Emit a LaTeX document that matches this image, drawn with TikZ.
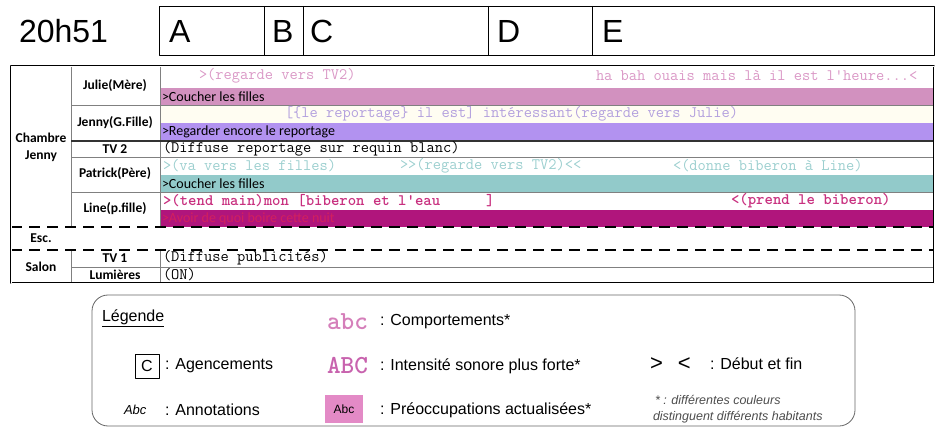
\documentclass[tikz,border=0pt]{standalone}
\usepackage{fontspec}
\setmainfont{Liberation Sans}
\newfontfamily\calib{Carlito}
\definecolor{juliebar}{HTML}{D291BF}
\definecolor{julietxt}{HTML}{DA98C6}
\definecolor{jennybar}{HTML}{B292F0}
\definecolor{jennytxt}{HTML}{B3A0DE}
\definecolor{jennyrow}{HTML}{FFFDF2}
\definecolor{patbar}{HTML}{92CACA}
\definecolor{pattxt}{HTML}{9CCFCF}
\definecolor{linebar}{HTML}{B0157C}
\definecolor{linetxt}{HTML}{C8307F}
\definecolor{lineinbar}{HTML}{D2205E}
\definecolor{legpink}{HTML}{D57FBA}
\definecolor{legpinkb}{HTML}{C863AE}
\definecolor{legbox}{HTML}{E38AC6}
\begin{document}
\begin{tikzpicture}[x=1pt, y=-1pt, line join=round]
			\tikzset{every node/.style={inner sep=0pt, outer sep=0pt},
				com/.style={anchor=west, font=\ttfamily\fontsize{16}{16}\selectfont},
				comb/.style={com, font=\ttfamily\bfseries\fontsize{16}{16}\selectfont, text=linetxt},
				bartxt/.style={anchor=west, font=\calib\fontsize{14}{14}\selectfont},
				who/.style={font=\calib\bfseries\fontsize{13.5}{17}\selectfont, align=center},
				hdr/.style={anchor=west, font=\fontsize{32}{32}\selectfont},
				leg/.style={anchor=west, font=\fontsize{16}{16}\selectfont},
				note/.style={anchor=west, text=black!70, font=\itshape\fontsize{12.5}{12.5}\selectfont},
				gridline/.style={draw=black!50, line width=0.7pt},
				sepline/.style={line width=1.8pt, dash pattern=on 11pt off 7pt}}
			\def\xl{11}\def\xa{71}\def\xb{160}\def\xr{934}
			\useasboundingbox (0,0) rectangle (936,427);
			% en-tete
			\node[hdr] (time) at (19,31) {20h51};
			\draw[line width=0.8pt] (159,6) rectangle (\xr,55);
			\draw[line width=0.8pt] (264,6)--(264,55) (303,6)--(303,55) (488,6)--(488,55) (592,6)--(592,55);
			\node[hdr] (A) at (169,31) {A};
			\node[hdr] (B) at (272,31) {B};
			\node[hdr] (C) at (310,31) {C};
			\node[hdr] (D) at (497,31) {D};
			\node[hdr] (E) at (602,31) {E};
			% fonds
			\fill[jennyrow] (\xb,105) rectangle (\xr,123);
			\fill[juliebar] (\xb,88) rectangle (\xr,105);
			\fill[jennybar] (\xb,123) rectangle (\xr,141);
			\fill[patbar] (\xb,175) rectangle (\xr,192);
			\fill[linebar] (\xb,210) rectangle (\xr,227);
			% grille
			\draw[gridline] (\xa,66)--(\xa,227) (\xa,250)--(\xa,283);
			\draw[gridline] (\xb,66)--(\xb,227) (\xb,250)--(\xb,283);
			\draw[gridline] (\xa,105)--(\xr,105) (\xa,157)--(\xr,157) (\xa,192)--(\xr,192) (\xa,267)--(\xr,267);
			\draw[black!80, line width=1.4pt] (\xa,141)--(\xr,141);
			\draw[sepline] (\xl,227)--(\xr,227);
			\draw[sepline] (\xl,250)--(\xr,250);
			\draw[line width=0.6pt, double, double distance=0.8pt] (\xl,66) rectangle (\xr,283);
			% lieux et habitants
			\node[who] (chambre) at (41,147) {Chambre\\Jenny};
			\node[who] (esc) at (41,238) {Esc.};
			\node[who] (salon) at (41,267) {Salon};
			\node[who] (julie) at (115,86) {Julie(Mère)};
			\node[who] (jenny) at (115,123) {Jenny(G.Fille)};
			\node[who] (tvdeux) at (115,149) {TV 2};
			\node[who] (patrick) at (115,174) {Patrick(Père)};
			\node[who] (line) at (115,209) {Line(p.fille)};
			\node[who] (tvun) at (115,258) {TV 1};
			\node[who] (lum) at (115,275) {Lumières};
			% comportements
			\node[com, text=julietxt] (julieA) at (199,76) {>(regarde vers TV2)};
			\node[com, text=julietxt] (julieB) at (596,76) {ha bah ouais mais là il est l\char39heure...<};
			\node[bartxt] (julieP) at (162,97) {>Coucher les filles};
			\node[com, text=jennytxt] (jennyA) at (285,114) {[\{le reportage\} il est] intéressant(regarde vers Julie)};
			\node[bartxt] (jennyP) at (162,132) {>Regarder encore le reportage};
			\node[com] (tvdeuxA) at (163,149) {(Diffuse reportage sur requin blanc)};
			\node[com, text=pattxt] (patA) at (163,166) {>(va vers les filles)};
			\node[com, text=pattxt] (patB) at (400,166) {>>(regarde vers TV2)<<};
			\node[com, text=pattxt] (patC) at (673,166) {<(donne biberon à Line)};
			\node[bartxt] (patP) at (162,183.5) {>Coucher les filles};
			\node[comb] (lineA) at (163,201) {>(tend main)mon [biberon et l\char39eau};
			\node[comb] (lineB) at (486,201) {]};
			\node[comb] (lineC) at (731,201) {<(prend le biberon)};
			\node[bartxt, text=lineinbar] (lineP) at (162,218.5) {>Avoir de quoi boire cette nuit};
			\node[com] (tvunA) at (163,258) {(Diffuse publicités)};
			\node[com] (lumA) at (163,275) {(ON)};
			% legende
			\draw[black!60, line width=0.8pt, rounded corners=16pt] (92,295) rectangle (855,426);
			\node[leg] (legende) at (102,318) {\underline{Légende}};
			\node[anchor=west, text=legpink, font=\ttfamily\bfseries\fontsize{26}{26}\selectfont] (abc) at (327,322) {abc};
			\node[leg] (comport) at (380,322) {: Comportements*};
			\node[draw, line width=0.6pt, minimum width=24pt, minimum height=24pt, font=\fontsize{16}{16}\selectfont] (Cbox) at (147,366) {C};
			\node[leg] (agenc) at (165,366) {: Agencements};
			\node[anchor=west, text=legpinkb, font=\ttfamily\bfseries\fontsize{26}{26}\selectfont] (ABC) at (327,366) {ABC};
			\node[leg] (intens) at (380,366) {: Intensité sonore plus forte*};
			\node[anchor=west, font=\fontsize{22}{22}\selectfont] (bornes) at (650,364) {>\hspace{15pt}<};
			\node[leg] (debut) at (710,364) {: Début et fin};
			\node[anchor=west, font=\itshape\fontsize{13}{13}\selectfont] (annot) at (124,410) {Abc};
			\node[leg] (annotL) at (165,410) {: Annotations};
			\node[fill=legbox, minimum width=38pt, minimum height=28pt, font=\fontsize{12}{12}\selectfont] (Abox) at (344,409) {Abc};
			\node[leg] (preoc) at (380,410) {: Préoccupations actualisées*};
			\node[note] (noteA) at (655,400) {* : différentes couleurs};
			\node[note] (noteB) at (653,417) {distinguent différents habitants};
	\end{tikzpicture}
\end{document}
